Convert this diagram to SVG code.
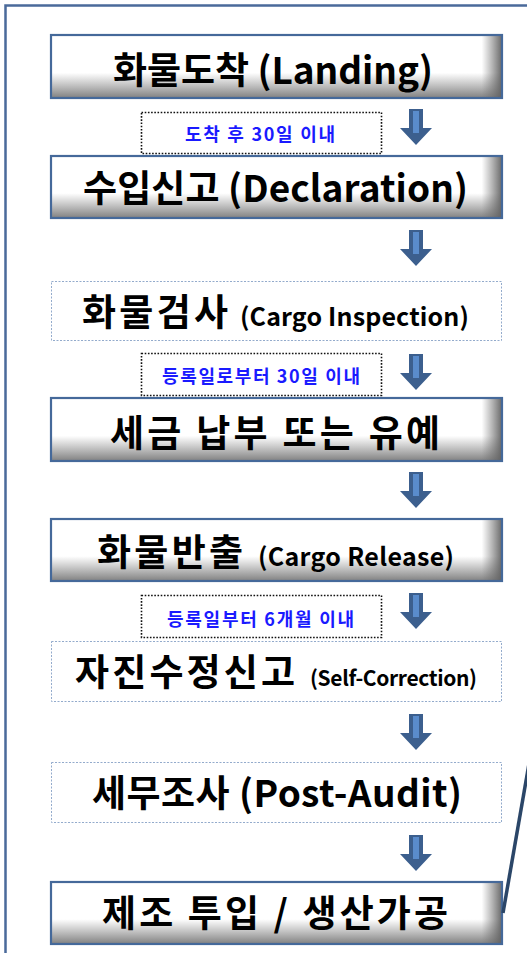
<svg xmlns="http://www.w3.org/2000/svg" width="527" height="953" viewBox="0 0 527 953">
<style>
  .frame{fill:none;stroke:#4a6a9a;stroke-width:2.5}
  .nodebg{fill:#ffffff}
  .shadeV{fill:url(#gV)}
  .shadeH{fill:url(#gH)}
  .solid{fill:none;stroke:#45699a;stroke-width:2.2}
  .dashed{fill:#ffffff;stroke:#93abcc;stroke-width:1;stroke-dasharray:2,1.5}
  .dotbox{fill:#ffffff;stroke:#111111;stroke-width:1.6;stroke-dasharray:1.6,1.6}
  .big{font-family:"Noto Sans CJK KR","Malgun Gothic",sans-serif;font-weight:700;font-size:37px;fill:#000000}
  .mid{font-family:"Noto Sans CJK KR","Malgun Gothic",sans-serif;font-weight:700;fill:#000000}
  .lbl{font-family:"Noto Sans CJK KR",sans-serif;font-weight:700;font-size:18px;fill:#1a1aff}
  .arrow{fill:#3c5f8e}
  .arrowIn{fill:#5a8ccc}
  .slant{stroke:#2b4668;stroke-width:3.5;fill:none}
</style>
<defs>
  <linearGradient id="gV" x1="0" y1="0" x2="0" y2="1">
    <stop offset="0" stop-color="#808080" stop-opacity="0"/>
    <stop offset="0.6" stop-color="#808080" stop-opacity="0"/>
    <stop offset="1" stop-color="#7a7a7a" stop-opacity="0.95"/>
  </linearGradient>
  <linearGradient id="gH" x1="0" y1="0" x2="1" y2="0">
    <stop offset="0" stop-color="#707070" stop-opacity="0"/>
    <stop offset="0.955" stop-color="#707070" stop-opacity="0"/>
    <stop offset="1" stop-color="#606060" stop-opacity="0.95"/>
  </linearGradient>
  <g id="arr">
    <path class="arrow" d="M-7,0 H7 V19 H16 L0,36 L-16,19 H-7 Z"/>
    <rect class="arrowIn" x="-3" y="2" width="6" height="22"/>
  </g>
</defs>

<rect class="frame" x="5.5" y="5.5" width="560" height="1000"/>

<g id="n1">
  <rect class="nodebg" x="51" y="35" width="451" height="63"/>
  <rect class="shadeV" x="51" y="35" width="451" height="63"/>
  <rect class="shadeH" x="51" y="35" width="451" height="63"/>
  <rect class="solid" x="51" y="35" width="451" height="63"/>
  <text class="big" x="113" y="84" textLength="320" lengthAdjust="spacing">화물도착 (Landing)</text>
</g>

<g id="lbl1">
  <rect class="dotbox" x="141.5" y="112.5" width="240" height="41"/>
  <text class="lbl" x="185" y="141" textLength="150" lengthAdjust="spacing">도착 후 30일 이내</text>
</g>

<g id="n2">
  <rect class="nodebg" x="51" y="156" width="451" height="62"/>
  <rect class="shadeV" x="51" y="156" width="451" height="62"/>
  <rect class="shadeH" x="51" y="156" width="451" height="62"/>
  <rect class="solid" x="51" y="156" width="451" height="62"/>
  <text class="big" x="83" y="202" textLength="385" lengthAdjust="spacing">수입신고 (Declaration)</text>
</g>

<g id="n3">
  <rect class="dashed" x="51.5" y="281.5" width="450" height="59"/>
  <text class="big" x="82" y="326" textLength="146" lengthAdjust="spacing">화물검사</text>
  <text class="mid" x="240" y="326" style="font-size:25px" textLength="229" lengthAdjust="spacing">(Cargo Inspection)</text>
</g>

<g id="lbl2">
  <rect class="dotbox" x="141.5" y="353.5" width="240" height="42"/>
  <text class="lbl" x="162" y="383" textLength="198" lengthAdjust="spacing">등록일로부터 30일 이내</text>
</g>

<g id="n4">
  <rect class="nodebg" x="51" y="398" width="451" height="63"/>
  <rect class="shadeV" x="51" y="398" width="451" height="63"/>
  <rect class="shadeH" x="51" y="398" width="451" height="63"/>
  <rect class="solid" x="51" y="398" width="451" height="63"/>
  <text class="big" x="110" y="447" textLength="330" lengthAdjust="spacing">세금 납부 또는 유예</text>
</g>

<g id="n5">
  <rect class="nodebg" x="51" y="519" width="451" height="62"/>
  <rect class="shadeV" x="51" y="519" width="451" height="62"/>
  <rect class="shadeH" x="51" y="519" width="451" height="62"/>
  <rect class="solid" x="51" y="519" width="451" height="62"/>
  <text class="big" x="97" y="566" textLength="146" lengthAdjust="spacing">화물반출</text>
  <text class="mid" x="258" y="566" style="font-size:25px" textLength="196" lengthAdjust="spacing">(Cargo Release)</text>
</g>

<g id="lbl3">
  <rect class="dotbox" x="141.5" y="595.5" width="240" height="42"/>
  <text class="lbl" x="167" y="626" textLength="187" lengthAdjust="spacing">등록일부터 6개월 이내</text>
</g>

<g id="n6">
  <rect class="dashed" x="51.5" y="641.5" width="450" height="60"/>
  <text class="big" x="75" y="686" textLength="220" lengthAdjust="spacing">자진수정신고</text>
  <text class="mid" x="310" y="686" style="font-size:21px" textLength="167" lengthAdjust="spacing">(Self-Correction)</text>
</g>

<g id="n7">
  <rect class="dashed" x="51.5" y="762.5" width="450" height="60"/>
  <text class="big" x="92" y="807" textLength="370" lengthAdjust="spacing">세무조사 (Post-Audit)</text>
</g>

<g id="n8">
  <rect class="nodebg" x="51" y="882" width="451" height="62"/>
  <rect class="shadeV" x="51" y="882" width="451" height="62"/>
  <rect class="shadeH" x="51" y="882" width="451" height="62"/>
  <rect class="solid" x="51" y="882" width="451" height="62"/>
  <text class="big" x="102" y="927" textLength="346" lengthAdjust="spacing">제조 투입 / 생산가공</text>
</g>

<g id="connectors">
  <use href="#arr" x="416" y="109"/>
  <use href="#arr" x="416" y="230"/>
  <use href="#arr" x="416" y="354"/>
  <use href="#arr" x="416" y="472"/>
  <use href="#arr" x="416" y="593"/>
  <use href="#arr" x="416" y="714"/>
  <use href="#arr" x="416" y="835"/>
  <path class="slant" d="M503,913 L530,758"/>
</g>
</svg>
